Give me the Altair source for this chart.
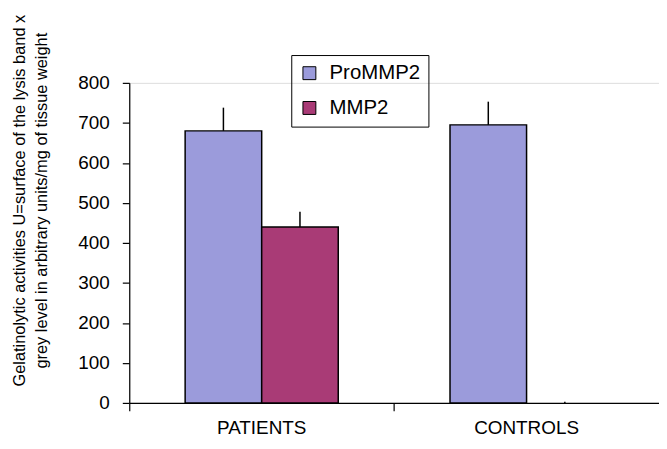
import altair as alt
import pandas as pd

groups = ["PATIENTS", "PATIENTS", "CONTROLS", "CONTROLS"]
series = ["ProMMP2", "MMP2", "ProMMP2", "MMP2"]
values = [680, 440, 695, 0]
errors = [58, 38, 58, 3]

df = pd.DataFrame({"group": groups, "series": series, "value": values, "err": errors})
df["top"] = df["value"] + df["err"]

font = "Liberation Sans"
xs = alt.Scale(domain=["PATIENTS", "CONTROLS"], paddingInner=0, paddingOuter=0)
xo = alt.Scale(domain=["ProMMP2", "MMP2"], paddingInner=0, paddingOuter=0.73)
ys = alt.Scale(domain=[0, 800], nice=False)

x = alt.X("group:N", scale=xs, sort=["PATIENTS", "CONTROLS"],
          axis=alt.Axis(title=None, labelAngle=0, labelFontSize=19, labelFont=font,
                        labelColor="black", bandPosition=0, tickColor="black",
                        domainColor="black", tickSize=8, labelPadding=8,
                        ticks=True, domainWidth=1.2, tickWidth=1.2))
xoff = alt.XOffset("series:N", scale=xo, sort=["ProMMP2", "MMP2"])

bars = alt.Chart(df).transform_filter(alt.datum.value > 0).mark_bar(
    stroke="black", strokeWidth=1.5).encode(
    x=x, xOffset=xoff,
    y=alt.Y("value:Q", scale=ys,
            axis=alt.Axis(values=[0, 100, 200, 300, 400, 500, 600, 700, 800], grid=False,
                          labelFontSize=19, labelFont=font, labelColor="black",
                          tickColor="black", domainColor="black", tickSize=7,
                          labelPadding=13, domainWidth=1.2, tickWidth=1.2,
                          title=["Gelatinolytic activities U=surface of the lysis band x",
                                 "grey level in arbitrary units/mg of tissue weight"],
                          titleFontSize=16.5, titleFont=font, titleFontWeight="normal",
                          titleColor="black", titleLineHeight=22,
                          titleX=-102, titleY=118)),
    color=alt.Color("series:N",
                    scale=alt.Scale(domain=["ProMMP2", "MMP2"], range=["#9b9bdb", "#a93b76"]),
                    legend=alt.Legend(title=None, orient="none", legendX=163, legendY=-28,
                                      strokeColor="black", padding=8, symbolType="square",
                                      symbolSize=169, symbolStrokeColor="black",
                                      symbolStrokeWidth=1, labelFontSize=20.5, labelFont=font,
                                      labelColor="black", rowPadding=14, symbolOpacity=1,
                                      labelOffset=10, labelLimit=300)),
)

errs = alt.Chart(df).mark_rule(color="black", strokeWidth=1.5).encode(
    x=x, xOffset=xoff,
    y=alt.Y("value:Q", scale=ys),
    y2="top:Q",
)

chart = alt.layer(bars, errs).properties(
    width=533, height=322,
    autosize=alt.AutoSizeParams(type="none"),
    padding={"left": 122, "top": 74, "right": 0, "bottom": 37},
).configure_view(stroke=None).configure(background="white")

chart.save("out.html", embed_options={"renderer": "svg", "actions": False})
